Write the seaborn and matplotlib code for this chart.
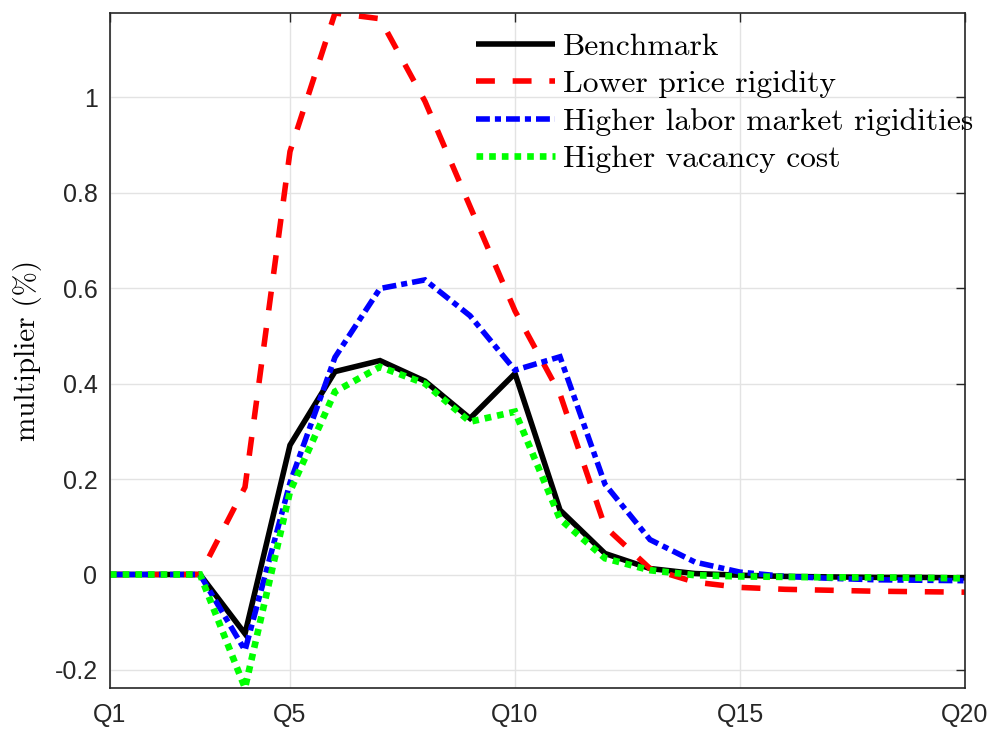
import numpy as np
import pandas as pd
import matplotlib
matplotlib.use("Agg")
import matplotlib.pyplot as plt
from matplotlib.lines import Line2D
import seaborn as sns

# Impulse responses of the multiplier (%) over 20 quarters
quarters = list(range(1, 21))
benchmark = [0.0, 0.0, 0.0, -0.124, 0.271, 0.425, 0.448, 0.405, 0.327, 0.421,
             0.135, 0.044, 0.0125, 0.002, -0.0015, -0.004, -0.005, -0.006, -0.006, -0.007]
lower_price_rigidity = [0.0, 0.0, 0.0, 0.183, 0.886, 1.176, 1.164, 0.991, 0.771, 0.552,
                        0.378, 0.100, 0.0125, -0.016, -0.027, -0.031, -0.033, -0.035, -0.036, -0.037]
higher_labor_rigidities = [0.0, 0.0, 0.0, -0.159, 0.192, 0.455, 0.599, 0.617, 0.542, 0.428,
                           0.456, 0.189, 0.073, 0.026, 0.005, -0.004, -0.008, -0.011, -0.012, -0.013]
higher_vacancy_cost = [0.0, 0.0, 0.0, -0.2377, 0.174, 0.383, 0.435, 0.400, 0.320, 0.341,
                       0.116, 0.034, 0.009, -0.0015, -0.004, -0.005, -0.006, -0.006, -0.007, -0.008]

series_labels = ["Benchmark", "Lower price rigidity",
                 "Higher labor market rigidities", "Higher vacancy cost"]
x_ticks = [1, 5, 10, 15, 20]
x_tick_labels = ["Q1", "Q5", "Q10", "Q15", "Q20"]
y_ticks = [-0.2, 0.0, 0.2, 0.4, 0.6, 0.8, 1.0]
y_tick_labels = ["-0.2", "0", "0.2", "0.4", "0.6", "0.8", "1"]
y_label = "multiplier (%)"

sns.set_style("white")
plt.rcParams["font.family"] = ["Liberation Sans", "DejaVu Sans"]

fig = plt.figure(figsize=(9.94, 7.32), dpi=100)
ax = fig.add_axes([110 / 994, 1 - 688 / 732, 855 / 994, 675 / 732])

styles = [
    dict(color="#000000", linewidth=4.0, linestyle="-"),
    dict(color="#FF0000", linewidth=4.0, linestyle=(0, (3.4, 3.2))),
    dict(color="#0000FF", linewidth=4.0, linestyle=(0, (2.5, 0.9, 1.1, 0.9))),
    dict(color="#00FF00", linewidth=4.8, linestyle=(0, (1.0, 0.9))),
]
all_series = [benchmark, lower_price_rigidity, higher_labor_rigidities, higher_vacancy_cost]

handles = []
for values, label, st in zip(all_series, series_labels, styles):
    df = pd.DataFrame({"quarter": quarters, "value": values})
    sns.lineplot(data=df, x="quarter", y="value", ax=ax, color=st["color"],
                 linewidth=st["linewidth"], linestyle=st["linestyle"],
                 dash_capstyle="butt", solid_capstyle="butt",
                 solid_joinstyle="miter", dash_joinstyle="miter", legend=False)
    handles.append(Line2D([], [], color=st["color"], linewidth=st["linewidth"],
                          linestyle=st["linestyle"], dash_capstyle="butt",
                          solid_capstyle="butt", label=label))

# Tight limits on the data range
all_vals = np.concatenate([np.asarray(s) for s in all_series])
ax.set_xlim(quarters[0], quarters[-1])
ax.set_ylim(all_vals.min(), all_vals.max())

ax.set_xticks(x_ticks)
ax.set_xticklabels(x_tick_labels)
ax.set_yticks(y_ticks)
ax.set_yticklabels(y_tick_labels)
ax.set_xlabel("")

axis_color = "#262626"
ax.tick_params(axis="both", which="major", direction="in", length=6.5, width=1.0,
               color=axis_color, labelcolor=axis_color, labelsize=18,
               top=True, right=True)
ax.tick_params(axis="y", pad=9)
ax.tick_params(axis="x", pad=11)
for sp in ax.spines.values():
    sp.set_visible(True)
    sp.set_color(axis_color)
    sp.set_linewidth(1.2)

ax.grid(True, color="#E3E3E3", linewidth=1.0)
ax.set_axisbelow(True)

serif = ["cmr10", "DejaVu Serif"]
ax.set_ylabel(y_label, fontsize=21, family=serif, color="#000000")
ax.yaxis.label.set_va("center")
ax.yaxis.set_label_coords((28 - 110) / 855, 0.5)

leg = ax.legend(handles=handles, loc="upper left",
                bbox_to_anchor=(476 / 994, 1 - 32.5 / 732), bbox_transform=fig.transFigure,
                frameon=False, borderpad=0, borderaxespad=0,
                handlelength=2.5, handletextpad=0.25, labelspacing=0.30,
                prop={"family": serif, "size": 22.7})
for t in leg.get_texts():
    t.set_color("#000000")

fig.savefig("out.png", dpi=100)
